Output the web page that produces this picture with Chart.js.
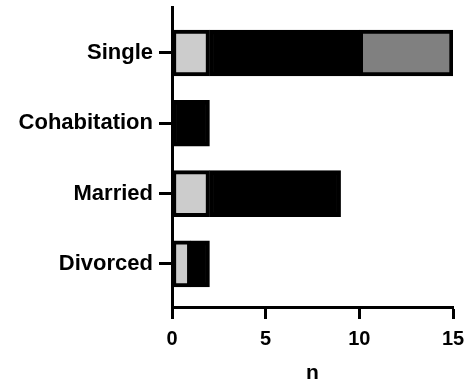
<!DOCTYPE html>
<html>
<head>
<meta charset="utf-8">
<script src="https://cdn.jsdelivr.net/npm/chart.js@4"></script>
<style>
  html, body { margin: 0; padding: 0; background: #fff; }
  #wrap { width: 469px; height: 387px; }
</style>
</head>
<body>
<div id="wrap"><canvas id="c" width="469" height="387"></canvas></div>
<script>
// Relationship status counts, stacked by group
const categories = ['Single', 'Cohabitation', 'Married', 'Divorced'];
const lightGroup = [2, 0, 2, 1];
const darkGroup  = [8, 2, 7, 1];
const midGroup   = [5, 0, 0, 0];
const xTicks = [0, 5, 10, 15];

const FONT = "'Liberation Sans', Arial, Helvetica, sans-serif";

function series(label, values, color) {
  return {
    label,
    data: values.map((v, i) => ({ x: v, y: i })),
    backgroundColor: color,
    borderColor: '#000',
    borderWidth: 4,
    borderSkipped: false,
    barThickness: 46
  };
}

new Chart(document.getElementById('c'), {
  type: 'bar',
  data: {
    datasets: [
      series('Group 1', lightGroup, '#cccccc'),
      series('Group 2', darkGroup, '#000000'),
      series('Group 3', midGroup, '#808080')
    ]
  },
  options: {
    responsive: false,
    animation: false,
    indexAxis: 'y',
    layout: { padding: { top: 7, right: 16, left: 0, bottom: 0 } },
    plugins: { legend: { display: false }, tooltip: { enabled: false } },
    scales: {
      x: {
        type: 'linear',
        stacked: true,
        min: 0,
        max: 15,
        afterBuildTicks: s => { s.ticks = xTicks.map(v => ({ value: v })); },
        border: { display: true, color: '#000', width: 3 },
        grid: { drawOnChartArea: false, tickLength: 12, tickWidth: 3, tickColor: '#000' },
        ticks: { color: '#000', padding: 8, font: { family: FONT, size: 20, weight: 'bold' } },
        title: {
          display: true, text: 'n', color: '#000',
          padding: { top: 0, bottom: 1 },
          font: { family: FONT, size: 21, weight: 'bold' }
        },
        afterFit: s => { s.height = 80; s.paddingLeft = 0; s.paddingRight = 0; }
      },
      y: {
        type: 'linear',
        stacked: true,
        reverse: true,
        offset: false,
        bounds: 'data',
        min: -0.654,
        max: 3.613,
        afterBuildTicks: s => { s.ticks = categories.map((c, i) => ({ value: i })); },
        border: { display: true, color: '#000', width: 3 },
        grid: { offset: false, drawOnChartArea: false, tickLength: 13, tickWidth: 3, tickColor: '#000' },
        ticks: {
          color: '#000', padding: 6,
          font: { family: FONT, size: 22, weight: 'bold' },
          callback: v => categories[v]
        },
        afterFit: s => { s.width = 172; s.paddingTop = 0; s.paddingBottom = 0; }
      }
    }
  }
});
</script>
</body>
</html>
